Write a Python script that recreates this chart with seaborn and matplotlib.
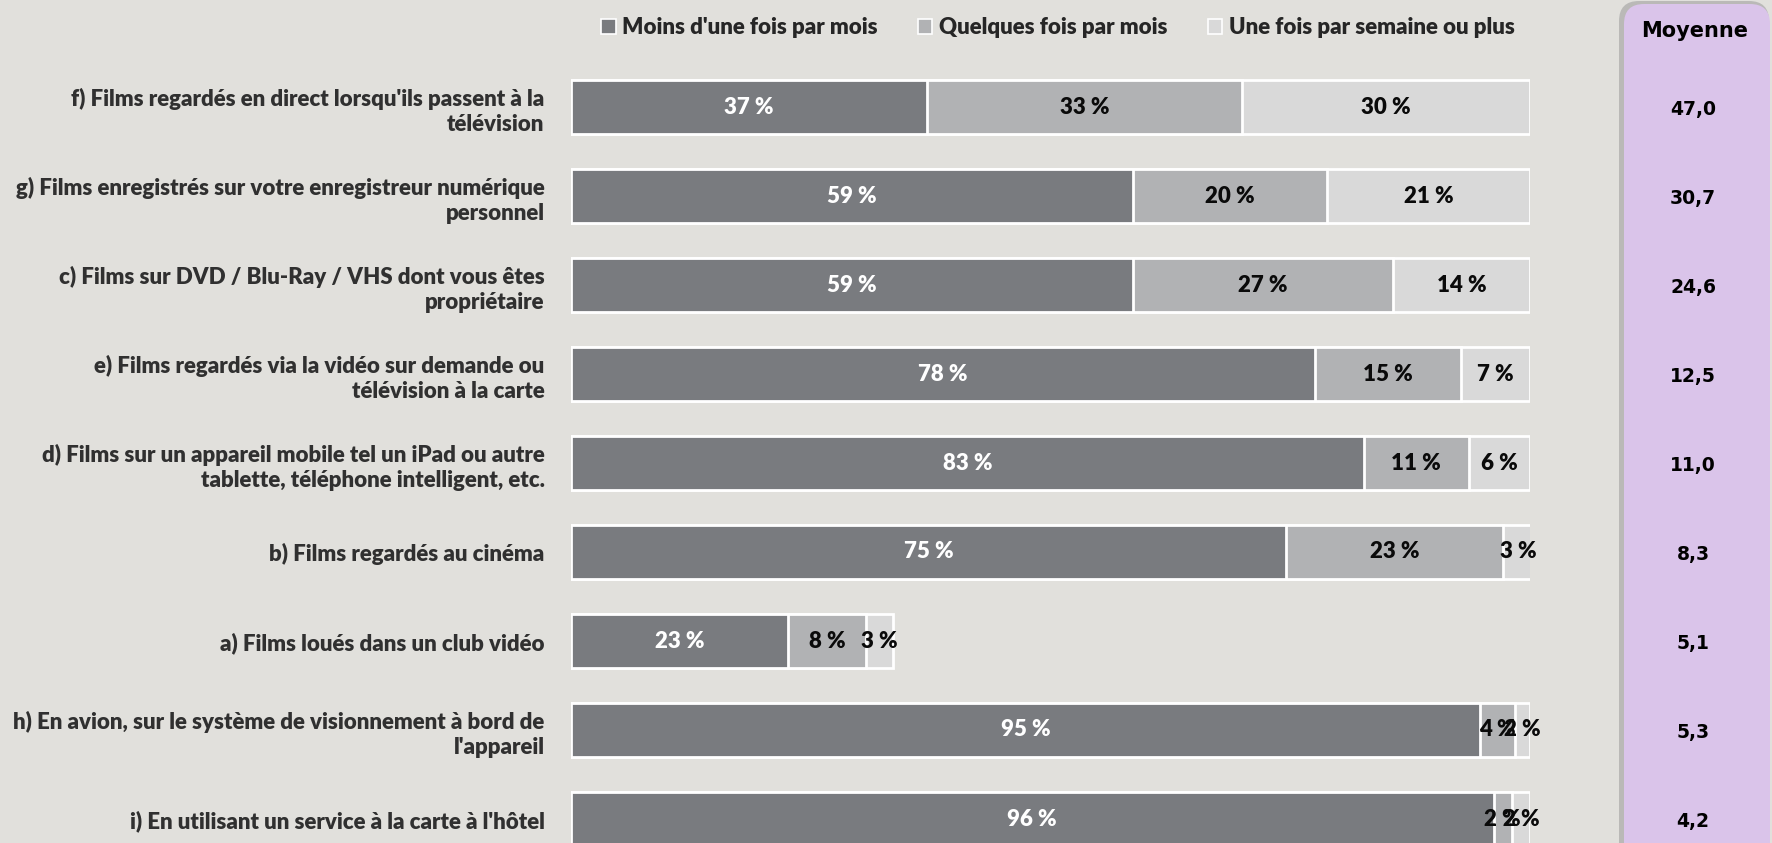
import numpy as np
import pandas as pd
import matplotlib
matplotlib.use("Agg")
import matplotlib.pyplot as plt
import seaborn as sns
from matplotlib.patches import Patch, FancyBboxPatch
from matplotlib.transforms import blended_transform_factory

# ---------------- data ----------------
categories = [
    "f) Films regardés en direct lorsqu'ils passent à la\ntélévision",
    "g) Films enregistrés sur votre enregistreur numérique\npersonnel",
    "c) Films sur DVD / Blu-Ray / VHS dont vous êtes\npropriétaire",
    "e) Films regardés via la vidéo sur demande ou\ntélévision à la carte",
    "d) Films sur un appareil mobile tel un iPad ou autre\ntablette, téléphone intelligent, etc.",
    "b) Films regardés au cinéma",
    "a) Films loués dans un club vidéo",
    "h) En avion, sur le système de visionnement à bord de\nl'appareil",
    "i) En utilisant un service à la carte à l'hôtel",
]
moins = [37.1, 58.6, 58.6, 77.6, 82.7, 74.6, 22.6, 94.8, 96.2]
quelques = [32.9, 20.2, 27.1, 15.2, 10.9, 22.6, 8.2, 3.6, 1.9]
semaine = [30.0, 21.2, 14.3, 7.2, 6.4, 3.1, 2.8, 1.6, 1.9]
moyenne = [47.0, 30.7, 24.6, 12.5, 11.0, 8.3, 5.1, 5.3, 4.2]
series_names = ["Moins d'une fois par mois", "Quelques fois par mois", "Une fois par semaine ou plus"]

# ---------------- style ----------------
BG = "#E1E0DC"
C_DARK = "#797B7F"
C_MID = "#B1B2B4"
C_LIGHT = "#D9D9D9"
PURPLE = "#DAC4EA"
TXT = "#0A0A0A"
FONT = ["Lato", "DejaVu Sans"]
FS = 16
WT = 800

sns.set_theme(style="white")
plt.rcParams["font.family"] = FONT
plt.rcParams["font.weight"] = WT

W, H, DPI = 1772, 843, 100
fig = plt.figure(figsize=(W / DPI, H / DPI), dpi=DPI, facecolor=BG)

# bar axes: x from 571 px to 1530 px, full height
ax = fig.add_axes([571 / W, 0, (1530 - 571) / W, 1])
ax.set_facecolor("none")

df = pd.DataFrame({
    "cat": categories,
    "c1": moins,
    "c2": np.array(moins) + np.array(quelques),
    "c3": np.array(moins) + np.array(quelques) + np.array(semaine),
})

for col, colr in [("c3", C_LIGHT), ("c2", C_MID), ("c1", C_DARK)]:
    sns.barplot(data=df, y="cat", x=col, orient="h", color=colr, order=categories,
                edgecolor="white", linewidth=2, width=0.6, errorbar=None, ax=ax,
                saturation=1)

# row 0 centre at 107 px from top, spacing 89 px
top = -107 / 89
bottom = (H - 107) / 89
ax.set_ylim(bottom, top)
ax.set_xlim(0, 100)

# segment labels
starts = np.zeros(len(categories))
for vals, tcol in [(moins, "white"), (quelques, TXT), (semaine, TXT)]:
    for i, v in enumerate(vals):
        ax.text(starts[i] + v / 2, i, f"{v:.0f} %", ha="center", va="center",
                fontsize=FS, fontweight=WT, color=tcol)
    starts += np.array(vals)

ax.set_xlabel("")
ax.set_ylabel("")
ax.set_xticks([])
ax.tick_params(axis="y", length=0, pad=19)
for lab in ax.get_yticklabels():
    lab.set_fontsize(FS)
    lab.set_fontweight(WT)
    lab.set_color("#303030")
    lab.set_multialignment("right")
    lab.set_linespacing(1.25)
for s in ax.spines.values():
    s.set_visible(False)

# legend
handles = [Patch(facecolor=c, edgecolor="white", linewidth=1.2) for c in (C_DARK, C_MID, C_LIGHT)]
fig.legend(handles, series_names, loc="center", bbox_to_anchor=(0.597, 0.967), ncol=3,
           frameon=False, handlelength=0.65, handleheight=0.65,
           handletextpad=0.3, columnspacing=1.8, prop={"weight": WT, "size": FS, "family": FONT})

# right purple panel with shadow (pixel coordinates), drawn beneath the axes
shadow = FancyBboxPatch((1619, -20), 150, 862, boxstyle="round,pad=0,rounding_size=20",
                        transform=None, facecolor="#9A9A9A", edgecolor="none", alpha=0.55, zorder=-3)
panel = FancyBboxPatch((1624, -20), 146, 859, boxstyle="round,pad=0,rounding_size=20",
                       transform=None, facecolor=PURPLE, edgecolor="none", zorder=-2)
fig.patches.extend([shadow, panel])

fig.text(1695 / W, 1 - 31 / H, "Moyenne", ha="center", va="center", fontsize=15,
         fontweight="bold", color="black", family="DejaVu Sans", zorder=3)
tr = blended_transform_factory(fig.transFigure, ax.transData)
for i, m in enumerate(moyenne):
    ax.text(1693 / W, i + 0.03, f"{m:.1f}".replace(".", ","), transform=tr, ha="center",
            va="center", fontsize=13.5, fontweight="bold", color="black",
            family="DejaVu Sans", clip_on=False, zorder=3)

fig.savefig("out.png", dpi=DPI, facecolor=BG)
